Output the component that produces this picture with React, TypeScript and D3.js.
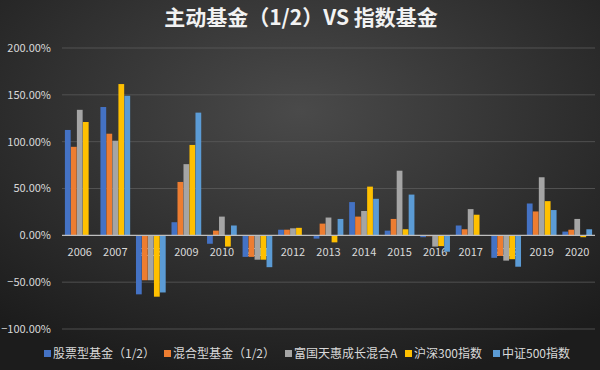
import React, { useEffect, useRef } from 'react';
import * as d3 from 'd3';

const years = ['2006', '2007', '2008', '2009', '2010', '2011', '2012', '2013', '2014', '2015', '2016', '2017', '2018', '2019', '2020'];
const seriesNames = ['股票型基金（1/2）', '混合型基金（1/2）', '富国天惠成长混合A', '沪深300指数', '中证500指数'];
const seriesColors = ['#4472C4', '#ED7D31', '#A5A5A5', '#FFC000', '#5B9BD5'];

// returns in %, null = no data
const stockFund = [112.5, 137, -63, 14, -9, -23, 6, -3.5, 35.5, 5, -2, 10.5, -24, 34, 4];
const mixedFund = [94.5, 108.5, -48, 57, 5, -23, 6, 12.5, 20, 17.5, -1, 6.5, -22, 25.5, 6];
const fuguoFund = [134, 101, -48, 76, 20, -26, 7.5, 19, 26, 69, -12, 28, -27, 62, 17.5];
const hs300 = [121, 161.5, -65.5, 96.5, -12, -26, 8, -7.5, 52, 6.5, -11.5, 22, -25.5, 36.5, -2];
const csi500: (number | null)[] = [null, 149, -61, 131, 10.5, -34, 0.3, 17.5, 39, 43.5, -17.5, -0.2, -33.5, 27, 6.5];

const yTicks = [-1, -0.5, 0, 0.5, 1, 1.5, 2];
const titleText = '主动基金（1/2）VS 指数基金';

const allSeries = [stockFund, mixedFund, fuguoFund, hs300, csi500];

const App: React.FC = () => {
    const svgRef = useRef<SVGSVGElement>(null);

    const width = 600;
    const height = 370;

    useEffect(() => {
        if (!svgRef.current) return;

        const svg = d3.select(svgRef.current);
        svg.selectAll('*').remove();

        const font = '"Noto Sans CJK SC", "Noto Sans", sans-serif';

        // background
        const defs = svg.append('defs');
        const grad = defs.append('radialGradient')
            .attr('id', 'bg')
            .attr('cx', '50%').attr('cy', '30%').attr('r', '75%');
        grad.append('stop').attr('offset', '0%').attr('stop-color', '#4a4a4a');
        grad.append('stop').attr('offset', '100%').attr('stop-color', '#1c1c1c');

        svg.append('rect')
            .attr('width', width)
            .attr('height', height)
            .attr('fill', 'url(#bg)');

        const yScale = d3.scaleLinear()
            .domain([-1, 2])
            .range([329, 48]);

        const xScale = d3.scaleBand<string>()
            .domain(years)
            .range([62, 595])
            .paddingInner(0.15)
            .paddingOuter(0.075);

        const xInner = d3.scaleBand<number>()
            .domain(d3.range(seriesNames.length))
            .range([0, xScale.bandwidth()])
            .padding(0.04);

        // grid
        svg.append('g')
            .selectAll('line')
            .data(yTicks.filter(t => t !== 0))
            .join('line')
            .attr('x1', 62)
            .attr('x2', 595)
            .attr('y1', d => yScale(d))
            .attr('y2', d => yScale(d))
            .attr('stroke', '#5a5a5a')
            .attr('stroke-width', 0.8);

        // y labels
        svg.append('g')
            .selectAll('text')
            .data(yTicks)
            .join('text')
            .attr('x', 51)
            .attr('y', d => yScale(d))
            .attr('dy', '0.35em')
            .attr('text-anchor', 'end')
            .attr('fill', '#d9d9d9')
            .style('font-family', font)
            .style('font-size', '11px')
            .text(d => d3.format('.2%')(d));

        // x labels (drawn before bars so bars overlap like the original)
        svg.append('g')
            .selectAll('text')
            .data(years)
            .join('text')
            .attr('x', d => (xScale(d) ?? 0) + xScale.bandwidth() / 2)
            .attr('y', 252)
            .attr('dy', '0.35em')
            .attr('text-anchor', 'middle')
            .attr('fill', '#d9d9d9')
            .style('font-family', font)
            .style('font-size', '11px')
            .text(d => d);

        // bars
        allSeries.forEach((values, si) => {
            svg.append('g')
                .selectAll('rect')
                .data(values.map((v, i) => ({ year: years[i], v })).filter(d => d.v !== null))
                .join('rect')
                .attr('x', d => (xScale(d.year) ?? 0) + (xInner(si) ?? 0))
                .attr('width', xInner.bandwidth())
                .attr('y', d => yScale(Math.max(0, (d.v as number) / 100)))
                .attr('height', d => Math.abs(yScale((d.v as number) / 100) - yScale(0)))
                .attr('fill', seriesColors[si]);
        });

        // zero line
        svg.append('line')
            .attr('x1', 62)
            .attr('x2', 595)
            .attr('y1', yScale(0))
            .attr('y2', yScale(0))
            .attr('stroke', '#bfbfbf')
            .attr('stroke-width', 1.2);

        // title
        svg.append('text')
            .attr('x', 301)
            .attr('y', 18)
            .attr('dy', '0.35em')
            .attr('text-anchor', 'middle')
            .attr('fill', '#f2f2f2')
            .style('font-family', font)
            .style('font-size', '21px')
            .style('font-weight', 'bold')
            .text(titleText);

        // legend
        const legendX = [44, 164, 285, 405, 493];
        const legend = svg.append('g');
        seriesNames.forEach((name, i) => {
            legend.append('rect')
                .attr('x', legendX[i])
                .attr('y', 350)
                .attr('width', 7)
                .attr('height', 7)
                .attr('fill', seriesColors[i]);
            legend.append('text')
                .attr('x', legendX[i] + 9)
                .attr('y', 353.5)
                .attr('dy', '0.35em')
                .attr('fill', '#d9d9d9')
                .style('font-family', font)
                .style('font-size', '12px')
                .text(name);
        });
    }, []);

    return (
        <svg ref={svgRef} width={width} height={height}
            style={{ position: 'absolute', left: 0, top: 0, display: 'block' }}></svg>
    );
};

export default App;
